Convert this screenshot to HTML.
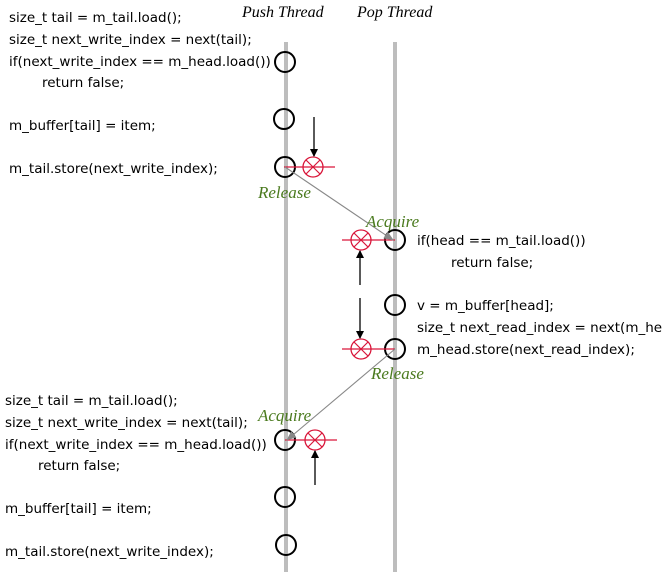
<!DOCTYPE html>
<html><head><meta charset="utf-8"><style>
html,body{margin:0;padding:0;background:#fff;}
svg{display:block}
.t{font-family:"DejaVu Sans","Liberation Sans",sans-serif;font-size:13.5px;fill:#000}
.l{font-family:"Liberation Serif",serif;font-style:italic;font-size:17px;fill:#4a7a1e}
.h{font-family:"Liberation Serif",serif;font-style:italic;font-size:16px;fill:#000}
</style></head><body>
<svg width="662" height="572" viewBox="0 0 662 572" xmlns="http://www.w3.org/2000/svg">
<defs>
<marker id="a" markerWidth="8" markerHeight="8" refX="7" refY="4" orient="auto" markerUnits="userSpaceOnUse"><path d="M0,0 L8,4 L0,8 z" fill="#000"/></marker>
<marker id="g" markerWidth="10" markerHeight="8" refX="9" refY="4" orient="auto" markerUnits="userSpaceOnUse"><path d="M0,0 L10,4 L0,8 z" fill="#888"/></marker>
<g id="x"><circle r="10" fill="none" stroke="#d9163a" stroke-width="1.3"/><path d="M-7,-7 L7,7 M-7,7 L7,-7" stroke="#d9163a" stroke-width="1.2"/></g>
</defs>
<line x1="286" y1="42" x2="286" y2="572" stroke="#bdbdbd" stroke-width="4"/>
<line x1="395" y1="42" x2="395" y2="572" stroke="#bdbdbd" stroke-width="4"/>
<text class="h" x="242" y="17">Push Thread</text>
<text class="h" x="357" y="17">Pop Thread</text>
<g fill="none" stroke="#000" stroke-width="2">
<circle cx="285" cy="62" r="10"/><circle cx="284" cy="119" r="10"/><circle cx="285" cy="167" r="10"/>
<circle cx="285" cy="440" r="10"/><circle cx="285" cy="497" r="10"/><circle cx="286" cy="545" r="10"/>
<circle cx="395" cy="240" r="10"/><circle cx="395" cy="305" r="10"/><circle cx="395" cy="349" r="10"/>
</g>
<g stroke="#d9163a" stroke-width="1.3">
<line x1="284" y1="167" x2="335" y2="167"/><line x1="342" y1="240" x2="395" y2="240"/>
<line x1="342" y1="349" x2="395" y2="349"/><line x1="285" y1="440" x2="337" y2="440"/>
</g>
<use href="#x" x="313" y="167"/><use href="#x" x="361" y="240"/><use href="#x" x="361" y="349"/><use href="#x" x="315" y="440"/>
<g stroke="#000" stroke-width="1.3">
<line x1="314" y1="117" x2="314" y2="156" marker-end="url(#a)"/>
<line x1="360" y1="285" x2="360" y2="251" marker-end="url(#a)"/>
<line x1="360" y1="298" x2="360" y2="338" marker-end="url(#a)"/>
<line x1="315" y1="485" x2="315" y2="451" marker-end="url(#a)"/>
</g>
<g stroke="#888" stroke-width="1.1">
<line x1="285" y1="167" x2="393" y2="240" marker-end="url(#g)"/>
<line x1="395" y1="349" x2="287" y2="440" marker-end="url(#g)"/>
</g>
<text class="l" x="258" y="198">Release</text>
<text class="l" x="366" y="227">Acquire</text>
<text class="l" x="371" y="379">Release</text>
<text class="l" x="258" y="421">Acquire</text>
<text class="t" x="9" y="22">size_t tail = m_tail.load();</text>
<text class="t" x="9" y="44">size_t next_write_index = next(tail);</text>
<text class="t" x="9" y="66">if(next_write_index == m_head.load())</text>
<text class="t" x="42" y="87">return false;</text>
<text class="t" x="9" y="130">m_buffer[tail] = item;</text>
<text class="t" x="9" y="173">m_tail.store(next_write_index);</text>
<text class="t" x="417" y="245">if(head == m_tail.load())</text>
<text class="t" x="451" y="267">return false;</text>
<text class="t" x="417" y="310">v = m_buffer[head];</text>
<text class="t" x="417" y="332">size_t next_read_index = next(m_head);</text>
<text class="t" x="417" y="354">m_head.store(next_read_index);</text>
<text class="t" x="5" y="405">size_t tail = m_tail.load();</text>
<text class="t" x="5" y="427">size_t next_write_index = next(tail);</text>
<text class="t" x="5" y="449">if(next_write_index == m_head.load())</text>
<text class="t" x="38" y="470">return false;</text>
<text class="t" x="5" y="513">m_buffer[tail] = item;</text>
<text class="t" x="5" y="556">m_tail.store(next_write_index);</text>
</svg>
</body></html>
